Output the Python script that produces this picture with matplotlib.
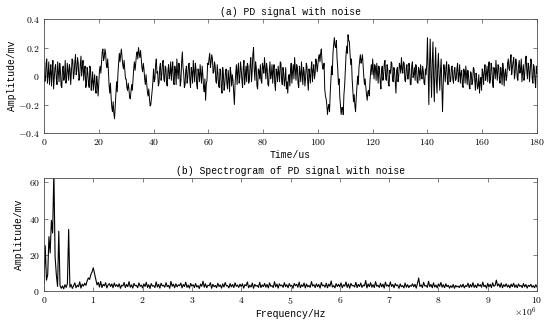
import numpy as np
import matplotlib.pyplot as plt
from matplotlib.ticker import FuncFormatter

# PD signal with noise (mV), read at t = 0, 0.5, 1.0, ... 180 us
sig = [
    0.05, -0.03, 0.12, 0.01, -0.06, 0.08, 0.03, -0.09, 0.06, -0.02, 0.10, -0.04, 0.04, -0.08, 0.07, 0.00, -0.05, 0.09, -0.03, 0.05,
    0.03, 0.11, 0.02, 0.15, 0.04, 0.09, -0.01, 0.14, 0.06, -0.03, 0.07, -0.06, 0.02, -0.08, 0.05, -0.04, -0.10, 0.01, -0.12, -0.05,
    -0.05, 0.07, 0.10, 0.19, 0.13, 0.16, 0.06, 0.04, -0.12, -0.15, -0.25, -0.26, -0.21, -0.04, 0.02, 0.16, 0.15, 0.13, 0.05, 0.04,
    -0.02, -0.10, -0.09, -0.16, -0.06, -0.02, 0.10, 0.09, 0.17, 0.20, 0.13, 0.12, 0.03, 0.05, -0.06, -0.05, -0.14, -0.16, -0.20, -0.10,
    0.05, -0.02, 0.12, 0.03, -0.05, 0.09, 0.01, 0.11, -0.04, 0.06, -0.07, 0.08, 0.02, -0.03, 0.10, -0.06, 0.04, 0.12, -0.02, 0.05,
    -0.03, 0.17, 0.02, -0.06, 0.07, -0.01, 0.09, -0.08, 0.03, 0.11, -0.04, 0.05, -0.09, 0.02, 0.08, -0.05, 0.01, -0.11, -0.17, -0.03,
    0.08, 0.16, 0.10, 0.12, 0.03, 0.07, -0.05, 0.02, -0.08, 0.04, -0.12, 0.01, -0.06, 0.05, -0.09, -0.02, 0.06, -0.07, -0.03, -0.20,
    0.02, -0.06, 0.09, -0.01, 0.05, -0.08, 0.11, 0.00, -0.04, 0.07, -0.02, 0.13, 0.03, 0.20, -0.03, 0.06, -0.09, 0.04, 0.08, -0.05,
    0.06, 0.13, -0.02, 0.05, -0.07, 0.10, 0.01, -0.05, 0.08, -0.10, 0.03, 0.07, -0.04, 0.09, -0.06, 0.02, -0.02, -0.09, -0.12, 0.01,
    0.04, -0.05, 0.08, 0.13, -0.03, 0.06, -0.08, 0.02, 0.10, -0.06, 0.03, -0.02, 0.07, -0.10, 0.01, 0.05, -0.04, 0.08, 0.02, 0.09,
    0.08, 0.15, 0.16, 0.10, 0.05, -0.09, -0.16, -0.27, -0.20, -0.12, 0.07, 0.16, 0.27, 0.20, 0.12, -0.06, -0.15, -0.27, -0.22, -0.13,
    0.03, 0.21, 0.29, 0.24, 0.08, -0.02, -0.18, -0.21, -0.15, 0.00, 0.06, 0.15, 0.11, 0.07, -0.06, -0.08, -0.17, -0.10, -0.04, 0.08,
    0.12, -0.02, 0.06, 0.09, -0.05, 0.04, -0.09, 0.07, 0.01, 0.11, -0.03, 0.05, -0.07, 0.02, 0.09, -0.04, 0.03, -0.12, 0.06, 0.00,
    0.07, 0.13, 0.02, 0.09, -0.04, 0.08, -0.02, 0.05, -0.06, 0.10, 0.01, -0.03, 0.06, -0.05, 0.04, 0.08, -0.02, 0.03, -0.06, 0.01,
    0.27, -0.20, 0.26, -0.15, 0.24, -0.18, 0.20, -0.12, 0.16, -0.10, 0.12, -0.25, 0.08, -0.04, 0.10, -0.06, 0.05, -0.03, 0.07, -0.05,
    0.06, -0.02, 0.09, 0.01, -0.05, 0.04, -0.08, 0.03, 0.07, -0.06, 0.00, -0.09, 0.02, -0.04, 0.05, -0.10, -0.02, -0.07, -0.12, -0.01,
    0.05, -0.06, 0.08, 0.01, -0.04, 0.10, -0.02, 0.06, -0.08, 0.04, 0.11, -0.03, 0.07, -0.05, 0.02, 0.09, -0.07, 0.05, 0.00, 0.12,
    0.04, 0.15, 0.06, 0.13, 0.02, 0.09, -0.03, 0.11, 0.05, -0.04, 0.08, 0.01, 0.14, -0.02, 0.07, 0.03, 0.10, -0.05, 0.06, -0.08,
    0.02,
]
# readings in between, at t = 0.25, 0.75, ... 179.75 us
sig_mid = [
    -0.04, 0.09, -0.05, 0.10, 0.02, -0.07, 0.11, -0.01, 0.08, -0.06, 0.03, 0.09, -0.07, 0.05, -0.03, 0.11, -0.02, 0.04, 0.08, -0.06,
    0.12, -0.02, 0.10, 0.01, 0.13, -0.03, 0.08, 0.00, 0.11, 0.04, -0.08, 0.06, -0.05, 0.07, -0.10, 0.03, -0.04, -0.09, 0.00, -0.14,
    0.04, 0.02, 0.17, 0.11, 0.19, 0.08, 0.12, -0.06, -0.05, -0.22, -0.18, -0.30, -0.12, -0.11, 0.09, 0.10, 0.19, 0.08, 0.11, -0.02,
    -0.08, -0.05, -0.15, -0.11, -0.10, 0.05, 0.04, 0.15, 0.12, 0.16, 0.18, 0.06, 0.09, -0.02, 0.01, -0.11, -0.09, -0.21, -0.15, -0.04,
    -0.04, 0.08, 0.02, -0.07, 0.06, -0.03, 0.09, -0.02, 0.07, -0.05, 0.04, -0.02, 0.10, 0.05, -0.04, 0.07, -0.06, 0.03, 0.09, -0.07,
    0.10, 0.06, -0.08, 0.04, -0.05, 0.08, -0.03, 0.06, -0.05, 0.03, 0.09, -0.06, 0.05, -0.04, 0.01, 0.07, -0.08, -0.02, -0.06, 0.09,
    0.12, 0.06, 0.15, 0.02, 0.10, -0.04, 0.08, -0.07, 0.05, -0.09, 0.06, -0.10, 0.03, -0.05, 0.04, -0.11, 0.02, 0.01, -0.12, -0.06,
    0.08, 0.04, -0.05, 0.10, -0.03, 0.06, -0.06, 0.07, 0.09, -0.05, 0.08, -0.04, 0.15, 0.05, 0.10, -0.07, 0.05, -0.02, -0.03, 0.09,
    0.02, 0.05, 0.09, -0.06, 0.04, -0.02, 0.08, 0.04, -0.05, 0.05, -0.04, 0.02, 0.10, -0.03, 0.06, -0.07, 0.06, -0.04, 0.00, -0.07,
    0.09, 0.03, -0.02, 0.05, 0.08, -0.05, 0.07, -0.04, 0.02, 0.06, -0.07, 0.09, -0.03, 0.05, -0.05, 0.10, 0.04, -0.02, 0.12, 0.03,
    0.13, 0.10, 0.19, 0.05, 0.09, -0.14, -0.20, -0.22, -0.25, -0.03, 0.01, 0.22, 0.21, 0.25, 0.05, -0.02, -0.21, -0.22, -0.27, -0.07,
    0.14, 0.16, 0.25, 0.15, 0.12, -0.10, -0.13, -0.25, -0.07, -0.06, 0.11, 0.09, 0.15, 0.00, -0.02, -0.13, -0.11, -0.14, 0.03, 0.01,
    0.04, 0.08, -0.03, 0.02, 0.07, -0.04, 0.05, -0.03, 0.09, -0.02, 0.08, -0.06, 0.04, 0.10, -0.03, 0.06, -0.05, 0.04, -0.04, 0.09,
    0.02, 0.05, 0.10, -0.03, 0.06, -0.02, 0.09, -0.06, 0.07, -0.01, 0.06, 0.08, -0.04, 0.06, -0.03, 0.01, 0.07, -0.05, 0.05, 0.09,
    0.05, 0.08, 0.02, 0.10, -0.02, 0.06, -0.04, 0.07, 0.00, 0.04, -0.08, -0.06, 0.03, 0.06, -0.02, 0.08, -0.04, 0.06, -0.02, 0.04,
    -0.03, 0.05, -0.04, 0.08, 0.02, -0.06, 0.05, -0.05, 0.01, 0.04, -0.07, 0.03, -0.06, 0.06, -0.03, 0.02, -0.09, 0.01, -0.04, -0.10,
    0.02, 0.04, -0.03, 0.07, 0.05, -0.05, 0.09, -0.04, 0.06, -0.02, 0.03, 0.08, -0.02, 0.06, -0.06, 0.04, 0.02, -0.03, 0.09, 0.05,
    0.11, 0.01, 0.10, -0.02, 0.12, -0.01, 0.07, 0.02, 0.12, 0.03, -0.03, 0.10, 0.04, 0.09, -0.04, 0.12, -0.02, 0.08, -0.03, 0.07,
]
t_end = 180  # us

# amplitude spectrum, every 0.025 x10^6 Hz from 0 to 10 x10^6 Hz
spec = [
    4, 25, 6, 9, 30, 21, 39, 32, 66, 19, 9, 2.5, 33, 3, 1.5, 2.8, 1.2, 3.5, 2.0, 4.2,
    34, 2.1, 3.6, 1.4, 2.9, 4.5, 1.8, 3.2, 2.4, 5.1, 1.6, 3.8, 2.7, 4.3, 3.1, 5.6, 7.2, 6.4, 9.1, 10.5,
    12.8, 9.6, 6.2, 3.4, 4.8, 2.2, 5.3, 1.9, 3.7, 2.8, 4.6, 1.7, 3.3, 4.1, 2.5, 3.9, 1.8, 4.4, 2.6, 3.5,
    2.3, 4.0, 1.5, 3.2, 2.8, 4.7, 1.9, 3.6, 2.4, 5.2, 2.1, 3.4, 1.6, 4.2, 2.9, 3.1, 1.8, 4.5, 2.6, 3.3,
    1.7, 3.9, 2.5, 4.8, 2.0, 3.5, 1.4, 4.1, 2.7, 3.0, 1.9, 5.0, 2.2, 3.7, 1.6, 4.3, 2.8, 3.2, 2.1, 4.6,
    2.4, 3.1, 1.5, 5.3, 2.6, 3.8, 1.8, 4.0, 2.3, 3.4, 2.9, 4.4, 1.7, 3.6, 2.5, 4.9, 2.0, 3.3, 1.6, 4.2,
    2.7, 3.5, 1.9, 4.1, 2.2, 3.0, 1.4, 3.8, 2.6, 5.4, 2.1, 4.0, 1.8, 3.2, 2.9, 4.6, 1.5, 3.7, 2.4, 3.1,
    1.8, 4.3, 2.5, 3.4, 1.6, 3.9, 2.2, 4.7, 2.8, 3.0, 1.7, 4.1, 2.3, 3.6, 1.9, 4.5, 2.6, 3.3, 2.0, 3.8,
    2.5, 4.0, 1.6, 3.5, 2.9, 5.0, 1.8, 3.2, 2.2, 4.4, 1.5, 3.7, 2.7, 3.1, 2.0, 4.8, 1.9, 3.4, 2.4, 4.2,
    2.1, 3.6, 1.7, 4.5, 2.6, 3.0, 1.9, 5.1, 2.3, 3.8, 1.6, 4.0, 2.8, 3.3, 2.0, 4.6, 2.4, 3.5, 1.8, 4.1,
    2.6, 3.2, 1.5, 4.2, 2.9, 3.7, 2.1, 4.9, 1.8, 3.4, 2.5, 4.4, 1.7, 3.9, 2.3, 3.1, 2.0, 5.2, 2.7, 3.5,
    1.9, 4.0, 2.4, 3.6, 1.6, 4.7, 2.8, 3.3, 2.1, 4.3, 1.8, 3.8, 2.6, 5.5, 2.2, 3.0, 1.7, 4.1, 2.5, 3.7,
    2.3, 4.5, 1.8, 3.4, 2.7, 5.0, 2.0, 3.9, 1.6, 4.2, 2.9, 3.1, 2.2, 4.8, 1.9, 3.6, 2.5, 4.4, 2.0, 3.3,
    2.8, 5.8, 1.7, 3.9, 2.4, 4.6, 2.1, 3.5, 1.9, 5.2, 2.6, 3.2, 2.0, 4.3, 2.3, 3.8, 1.6, 4.9, 2.7, 3.4,
    2.2, 5.0, 2.5, 3.6, 1.8, 4.1, 2.9, 3.3, 1.5, 3.9, 2.4, 3.0, 1.7, 4.4, 2.1, 3.5, 1.9, 3.1, 2.6, 4.0,
    2.3, 3.7, 1.6, 4.2, 7.2, 2.5, 3.4, 1.9, 4.8, 2.7, 3.1, 2.0, 5.4, 2.4, 3.6, 1.8, 4.5, 2.2, 3.3, 1.7,
    3.9, 2.6, 4.7, 2.1, 3.5, 1.8, 4.0, 2.4, 3.2, 1.6, 2.9, 2.0, 3.6, 1.5, 3.1, 2.3, 2.7, 1.9, 3.4, 2.2,
    3.8, 1.7, 3.0, 2.5, 4.3, 1.9, 3.6, 2.2, 4.6, 2.0, 3.3, 1.8, 4.1, 2.7, 3.5, 2.1, 4.9, 2.4, 3.2, 1.6,
    4.2, 2.3, 3.7, 1.9, 4.5, 2.6, 3.1, 6.0, 2.8, 3.9, 2.1, 4.4, 1.8, 3.5, 2.5, 4.0, 2.2, 3.3, 1.7, 3.8,
    2.4, 4.3, 2.0, 3.4, 1.8, 3.9, 2.6, 3.1, 1.9, 4.1, 2.3, 3.6, 1.6, 3.2, 2.5, 3.7, 2.1, 3.0, 1.8, 3.5,
    2.2,
]
f_end = 10  # x10^6 Hz

# merge the two sets of readings in time order
y = np.empty(len(sig) + len(sig_mid))
y[0::2] = sig
y[1::2] = sig_mid
t = np.linspace(0, t_end, len(y))
f = np.linspace(0, f_end, len(spec))

plt.rcParams['mathtext.fontset'] = 'cm'
txt = dict(family='Liberation Mono', fontsize=7)

def cmfmt(v, pos):
    return r'$\mathrm{%g}$' % v

def style(ax):
    for s in ax.spines.values():
        s.set_color('#4d4d4d')
        s.set_linewidth(0.6)
    ax.tick_params(direction='in', top=True, right=True, length=3,
                   width=0.5, color='#4d4d4d', labelsize=7, pad=3)
    ax.xaxis.set_major_formatter(FuncFormatter(cmfmt))
    ax.yaxis.set_major_formatter(FuncFormatter(cmfmt))

fig = plt.figure(figsize=(5.5, 3.23), dpi=100)
ax1 = fig.add_axes([0.08, 0.588, 0.8964, 0.353])
ax2 = fig.add_axes([0.08, 0.099, 0.8964, 0.349])

ax1.plot(t, y, color='k', lw=0.7)
ax1.set_xlim(0, 180)
ax1.set_ylim(-0.4, 0.4)
ax1.set_xticks(np.arange(0, 181, 20))
ax1.set_yticks([-0.4, -0.2, 0, 0.2, 0.4])
style(ax1)
ax1.set_title('(a) PD signal with noise', pad=3, **txt)
ax1.set_xlabel('Time/us', labelpad=2, **txt)
ax1.set_ylabel('Amplitude/mv', labelpad=1, **txt)

ax2.plot(f, spec, color='k', lw=0.8)
ax2.set_xlim(0, 10)
ax2.set_ylim(0, 62.2)
ax2.set_xticks(np.arange(0, 11, 1))
ax2.set_yticks([0, 20, 40, 60])
style(ax2)
ax2.set_title('(b) Spectrogram of PD signal with noise', pad=3, **txt)
ax2.set_xlabel('Frequency/Hz', labelpad=2, **txt)
ax2.set_ylabel('Amplitude/mv', labelpad=3, **txt)
ax2.text(1.0, -0.19, r'$\times10^{6}$', transform=ax2.transAxes,
         ha='right', va='center', fontsize=7)

fig.savefig('out.png', dpi=100)
